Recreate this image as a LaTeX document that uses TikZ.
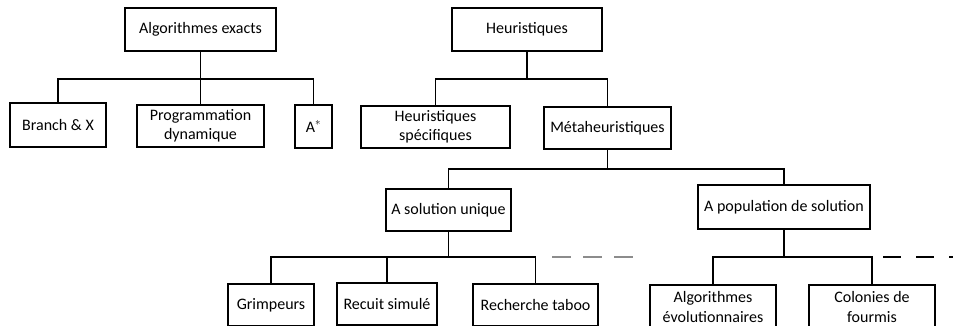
\documentclass[tikz,border=0pt]{standalone}
\usepackage{fontspec}
\setmainfont{Carlito}
\usepackage{tikz}

\tikzset{
	cat/.style={shape=rectangle,draw=black,line width=1.5pt,inner sep=0pt,align=center,font=\fontsize{16}{19.5}\selectfont},
	link/.style={draw=black,line width=1.3pt}
}

\begin{document}
\begin{tikzpicture}[x=1pt,y=-1pt]
	\useasboundingbox (0,0) rectangle (953,326);
	% niveau 1
	\node [cat,minimum width=151pt,minimum height=43pt] (AE) at (200.5,29.5) {Algorithmes exacts};
	\node [cat,minimum width=150pt,minimum height=43pt] (H) at (527,29.5) {Heuristiques};
	% niveau 2
	\node [cat,minimum width=96pt,minimum height=44pt] (BX) at (58,125) {Branch \& X};
	\node [cat,minimum width=127pt,minimum height=42pt] (PD) at (200.5,126) {Programmation\\dynamique};
	\node [cat,minimum width=37pt,minimum height=43pt] (AS) at (313.5,126.5) {A$^*$};
	\node [cat,minimum width=149pt,minimum height=42pt] (HS) at (435.5,127) {Heuristiques\\spécifiques};
	\node [cat,minimum width=127pt,minimum height=42pt] (MH) at (607.5,128) {Métaheuristiques};
	% niveau 3
	\node [cat,minimum width=125pt,minimum height=42pt] (SU) at (448.5,210) {A solution unique};
	\node [cat,minimum width=172pt,minimum height=44pt] (PS) at (784,207) {A population de solution};
	% niveau 4
	\node [cat,minimum width=86pt,minimum height=42pt] (G) at (271,305) {Grimpeurs};
	\node [cat,minimum width=100pt,minimum height=42pt] (RS) at (387,304) {Recuit simulé};
	\node [cat,minimum width=125pt,minimum height=42pt] (RT) at (535.5,305) {Recherche taboo};
	\node [cat,minimum width=126pt,minimum height=44pt] (AEv) at (713,307) {Algorithmes\\évolutionnaires};
	\node [cat,minimum width=126pt,minimum height=44pt] (CF) at (872,307) {Colonies de\\fourmis};

	\coordinate (jAE) at (200.5,79);
	\coordinate (jH) at (527,79);
	\coordinate (jMH) at (607.5,169);
	\coordinate (jSU) at (448.5,257);
	\coordinate (jPS) at (784,257);
	\coordinate (d1) at (552,257);
	\coordinate (d2) at (634,257);
	\coordinate (d3) at (883,257);
	\coordinate (d4) at (953,257);

	\path [link] (AE) -- (jAE);
	\path [link] (jAE) -| (BX);
	\path [link] (jAE) -- (PD);
	\path [link] (jAE) -| (AS);
	\path [link] (H) -- (jH);
	\path [link] (jH) -| (HS);
	\path [link] (jH) -| (MH);
	\path [link] (MH) -- (jMH);
	\path [link] (jMH) -| (SU);
	\path [link] (jMH) -| (PS);
	\path [link] (SU) -- (jSU);
	\path [link] (jSU) -| (G);
	\path [link] (jSU) -| (RS);
	\path [link] (jSU) -| (RT);
	\path [link] (PS) -- (jPS);
	\path [link] (jPS) -| (AEv);
	\path [link] (jPS) -| (CF);
	\path [link,draw=black!45,dash pattern=on 19pt off 12pt] (d1) -- (d2);
	\path [link,dash pattern=on 18pt off 15pt] (d3) -- (d4);
\end{tikzpicture}
\end{document}
